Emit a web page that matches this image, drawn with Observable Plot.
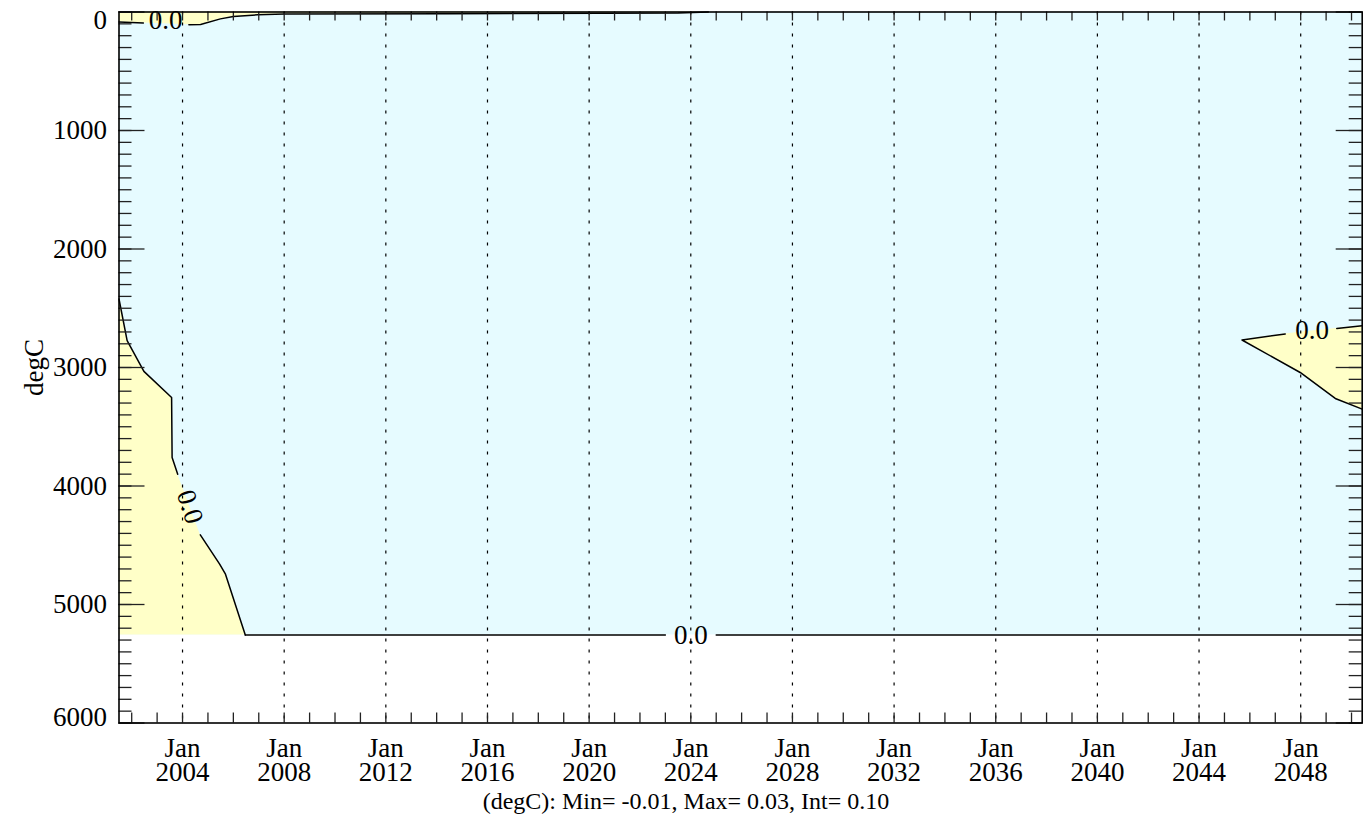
<!DOCTYPE html>
<html>
<head>
<meta charset="utf-8">
<script src="https://cdn.jsdelivr.net/npm/d3@7"></script>
<script src="https://cdn.jsdelivr.net/npm/@observablehq/plot@0.6"></script>
<style>
  html, body { margin: 0; padding: 0; background: #fff; }
  svg { display: block; }
</style>
</head>
<body>
<div id="chart"></div>
<script>
// ---- data (years as decimal years, depth in m) ----
const xStart = 2001.5, xEnd = 2050.42;
const depthDomain = [0, 6000];
const dataBottom = 5257;

// zero contour near the surface (null = gap for the label)
const topContour = [[2001.5,85],[2002.46,92],null,[2004.25,108],[2004.71,105],[2005.49,58],[2006.0,38],[2006.95,24],[2008.0,17],[2014.5,15],[2020.5,11],[2023.5,8],[2024.69,0]];
// zero contour at depth on the left and along the bottom of the data
const leftContour = [[2001.5,2422],[2001.82,2774],[2002.48,3033],[2003.57,3253],[2003.59,3759],[2003.81,3900],null,[2004.70,4412],[2005.46,4660],[2005.69,4744],[2006.47,5257]];
const bottomContour = [[2006.47,5257],[2023.0,5257],null,[2025.0,5257],[2050.42,5257]];
// zero contour enclosing the wedge at the right
const wedgeContour = [[2050.42,2647],[2049.42,2670],null,[2047.39,2717],[2045.69,2768],[2047.98,3042],[2049.36,3261],[2050.42,3351]];
const wedgeYears = [2045.69, 2047.39, 2047.98, 2049.39, 2050.42];
const wedgeUpper = [2768, 2717, 2703, 2671, 2647];
const wedgeLower = [2768, 2971, 3042, 3264, 3351];

const contourLabels = [
  {year: 2003.33, depth: 72, rot: 0},
  {year: 2004.29, depth: 4176, rot: 72},
  {year: 2024.0, depth: 5257, rot: 0},
  {year: 2048.45, depth: 2690, rot: 0}
];
const labelText = "0.0";

const xMajorTicks = [2004, 2008, 2012, 2016, 2020, 2024, 2028, 2032, 2036, 2040, 2044, 2048];
const xMinorTicks = d3.range(2002, 2051);
const yMajorTicks = [0, 1000, 2000, 3000, 4000, 5000, 6000];
const yMinorTicks = d3.range(0, 6001, 100);
const monthLabel = "Jan";
const yLabel = "degC";
const caption = "(degC): Min= -0.01, Max= 0.03, Int= 0.10";

// ---- layout ----
const W = 1371, H = 827;
const mL = 118.5, mR = 9.3, mT = 11.5, mB = 104.5;
const frameW = W - mL - mR, frameH = H - mT - mB;
const blue = "#e6fbff", yellow = "#ffffc8";
const font = "'Liberation Serif', 'DejaVu Serif', serif";
const fs = 27;

const fillTop = topContour.filter(Boolean);
const fillLeft = leftContour.filter(Boolean);
const wedge = wedgeYears.map((y, i) => ({year: y, up: wedgeUpper[i], low: wedgeLower[i]}));
const px = d => d ? d[0] : NaN, py = d => d ? d[1] : NaN;

const chart = Plot.plot({
  width: W, height: H,
  marginLeft: mL, marginRight: mR, marginTop: mT, marginBottom: mB,
  style: {fontFamily: font, fontSize: fs + "px", background: "#fff", color: "#000"},
  x: {domain: [xStart, xEnd], axis: null},
  y: {domain: depthDomain, reverse: true, axis: null},
  marks: [
    Plot.rect([0], {x1: xStart, x2: xEnd, y1: 0, y2: dataBottom, fill: blue}),
    Plot.areaY(fillTop, {x: px, y1: 0, y2: py, fill: yellow}),
    Plot.areaX(fillLeft, {y: py, x1: xStart, x2: px, fill: yellow}),
    Plot.areaY(wedge, {x: "year", y1: "up", y2: "low", fill: yellow}),
    // contour lines
    Plot.line(topContour, {x: px, y: py, stroke: "#000", strokeWidth: 1.5}),
    Plot.line(leftContour, {x: px, y: py, stroke: "#000", strokeWidth: 1.5}),
    Plot.line(bottomContour, {x: px, y: py, stroke: "#000", strokeWidth: 1.5}),
    Plot.line(wedgeContour, {x: px, y: py, stroke: "#000", strokeWidth: 1.5}),
    Plot.text(contourLabels, {x: "year", y: "depth", rotate: "rot", text: () => labelText, fontSize: fs, fill: "#000"}),
    // dotted grid
    Plot.ruleX(xMajorTicks, {x: d => d, stroke: "#000", strokeWidth: 1.2, strokeDasharray: "3,8"}),
    // ticks
    Plot.ruleY(yMinorTicks, {y: d => d, insetRight: frameW - 13, stroke: "#222", strokeWidth: 1.3}),
    Plot.ruleY(yMajorTicks, {y: d => d, insetRight: frameW - 26, stroke: "#222", strokeWidth: 1.3}),
    Plot.ruleY(yMinorTicks, {y: d => d, insetLeft: frameW - 13, stroke: "#222", strokeWidth: 1.3}),
    Plot.ruleY(yMajorTicks, {y: d => d, insetLeft: frameW - 26, stroke: "#222", strokeWidth: 1.3}),
    Plot.ruleX(xMinorTicks, {x: d => d, insetTop: frameH - 10, stroke: "#222", strokeWidth: 1.3}),
    Plot.ruleX(xMinorTicks, {x: d => d, insetBottom: frameH - 9, stroke: "#222", strokeWidth: 1.3}),
    Plot.frame({stroke: "#000", strokeWidth: 1.6}),
    // y tick labels
    Plot.text(yMajorTicks.filter(d => d > 0 && d < 6000), {y: d => d, frameAnchor: "left", dx: -12, textAnchor: "end", lineAnchor: "middle", text: d => String(d), fontSize: fs}),
    Plot.text([0], {y: d => d, frameAnchor: "left", dx: -12, dy: 8.5, textAnchor: "end", lineAnchor: "middle", text: d => String(d), fontSize: fs}),
    Plot.text([6000], {y: d => d, frameAnchor: "left", dx: -12, dy: -6, textAnchor: "end", lineAnchor: "middle", text: d => String(d), fontSize: fs}),
    // x tick labels (two lines: month over year)
    Plot.text(xMajorTicks, {x: d => d, frameAnchor: "bottom", dy: 38.5, lineAnchor: "middle", textAnchor: "middle", lineHeight: 0.89, text: d => monthLabel + "\n" + d, fontSize: fs}),
    // axis label and caption
    Plot.text([yLabel], {frameAnchor: "left", dx: -85, rotate: -90, textAnchor: "middle", lineAnchor: "middle", text: d => d, fontSize: fs}),
    Plot.text([caption], {frameAnchor: "bottom", dx: (W / 2) - (mL + frameW / 2), dy: 78, textAnchor: "middle", lineAnchor: "middle", text: d => d, fontSize: 24})
  ]
});
document.getElementById("chart").appendChild(chart);
</script>
</body>
</html>
